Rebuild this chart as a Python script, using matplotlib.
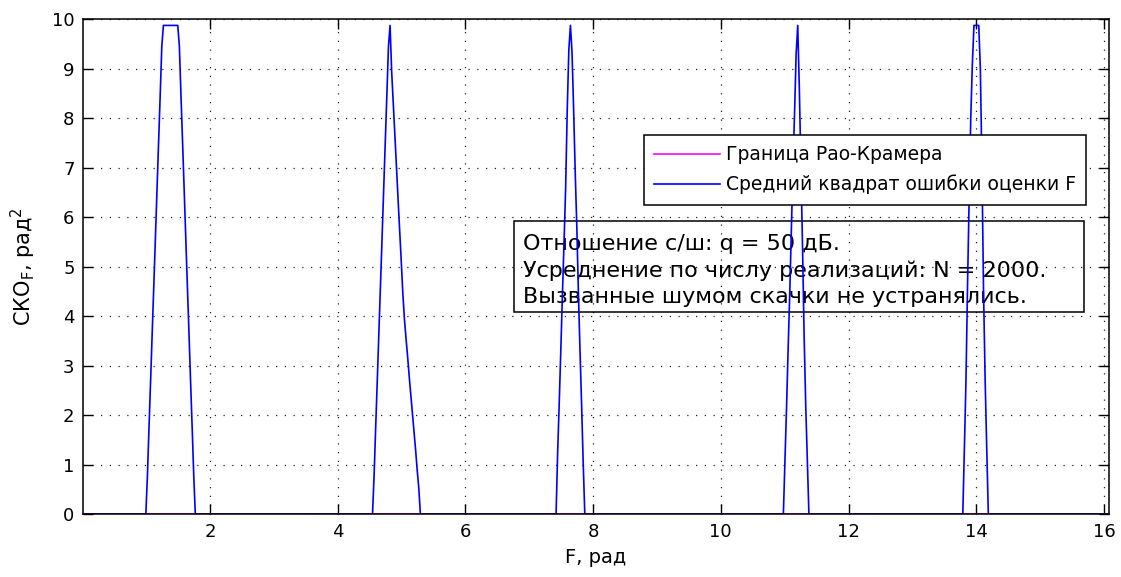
import numpy as np
import matplotlib
matplotlib.use('Agg')
import matplotlib.pyplot as plt
from matplotlib.patches import Rectangle

plt.rcParams['font.family'] = ['DejaVu Sans']
plt.rcParams['mathtext.fontset'] = 'custom'
plt.rcParams['mathtext.rm'] = 'DejaVu Sans'
plt.rcParams['mathtext.it'] = 'DejaVu Sans'

# sampling step of F
F_step = 0.025
F_min, F_max = 0.01, 16.08

# Rao-Cramer bound (practically zero on this scale)
crb_F = [F_min, F_max]
crb_val = [0.0, 0.0]

# mean square error: start of each noise-jump peak and its sampled values
peak_start = [0.995, 4.545, 7.42, 10.98, 13.79]
peak_vals = [
    [0, 0.79, 1.77, 2.71, 3.68, 4.63, 5.59, 6.56, 7.52, 8.47, 9.45,
     9.87, 9.87, 9.87, 9.87, 9.87, 9.87, 9.87, 9.87, 9.87, 9.87,
     9.45, 8.47, 7.52, 6.56, 5.59, 4.63, 3.68, 2.71, 1.77, 0.79, 0],
    [0, 0.79, 1.77, 2.71, 3.68, 4.63, 5.59, 6.56, 7.52, 8.47, 9.45, 9.87,
     8.94, 8.30, 7.66, 7.02, 6.37, 5.74, 5.11, 4.46, 3.94, 3.55, 3.18,
     2.78, 2.41, 2.04, 1.67, 1.30, 0.89, 0.53, 0],
    [0, 1.26, 2.27, 3.35, 4.46, 5.5, 6.6, 8.17, 9.38, 9.87,
     9.32, 8.17, 6.9, 5.8, 4.46, 3.3, 2.2, 1.03, 0],
    [0, 1.1, 2.17, 3.36, 4.46, 5.74, 7.0, 8.1, 9.3, 9.87,
     8.6, 7.0, 5.4, 3.6, 2.2, 1.1, 0],
    [0, 1.33, 2.71, 4.67, 6.4, 8.0, 9.1, 9.87, 9.87, 9.87, 9.87,
     9.0, 7.0, 4.5, 2.71, 1.33, 0],
]

xticks = [2, 4, 6, 8, 10, 12, 14, 16]
yticks = list(range(0, 11))

legend_labels = ['Граница Рао-Крамера', 'Средний квадрат ошибки оценки F']
info_lines = ['Отношение с/ш: q = 50 дБ.',
              'Усреднение по числу реализаций: N = 2000.',
              'Вызванные шумом скачки не устранялись.']

# build the MSE curve from the peaks, zero in between
mse_F = [F_min]
mse_val = [0.0]
for s, vals in zip(peak_start, peak_vals):
    xs = s + F_step * np.arange(len(vals))
    mse_F.extend(xs)
    mse_val.extend(vals)
mse_F.append(F_max)
mse_val.append(0.0)

fig = plt.figure(figsize=(11.21, 5.77), dpi=100)
ax = fig.add_axes([0.0740, 0.1087, 0.9153, 0.8584])

ax.plot(crb_F, crb_val, color='#ff00ff', lw=1.2, label=legend_labels[0])
ax.plot(mse_F, mse_val, color='#0000ff', lw=1.2, label=legend_labels[1])

ax.set_xlim(F_min, F_max)
ax.set_ylim(0, 10)
ax.set_xticks(xticks)
ax.set_yticks(yticks)
ax.grid(True, color='#222222', linestyle=(0, (1, 6)), lw=0.9)
ax.set_axisbelow(True)
ax.tick_params(direction='in', top=True, right=True, length=7, width=1,
               labelsize=13, pad=6)
for sp in ax.spines.values():
    sp.set_linewidth(1.1)

ax.set_xlabel('F, рад', fontsize=14, labelpad=5)
ax.set_ylabel(r'СКО$_\mathrm{F}$, рад$^2$', fontsize=15, labelpad=10)

leg = ax.legend(loc='upper right', bbox_to_anchor=(0.978, 0.766),
                bbox_transform=ax.transAxes, borderaxespad=0,
                fontsize=13.5, handlelength=3.5, handletextpad=0.32,
                borderpad=0.55, labelspacing=0.55, fancybox=False,
                framealpha=1, edgecolor='black')
leg.get_frame().set_linewidth(1.1)

ax.add_patch(Rectangle((0.4198, 0.4087), 0.5555, 0.1838, transform=ax.transAxes,
                       fill=False, edgecolor='black', lw=1.1, zorder=1))
ax.text(0.4286, 0.492, '\n'.join(info_lines), transform=ax.transAxes,
        fontsize=16, va='center', ha='left', linespacing=1.38, zorder=1)

fig.savefig('out.png', dpi=100)
